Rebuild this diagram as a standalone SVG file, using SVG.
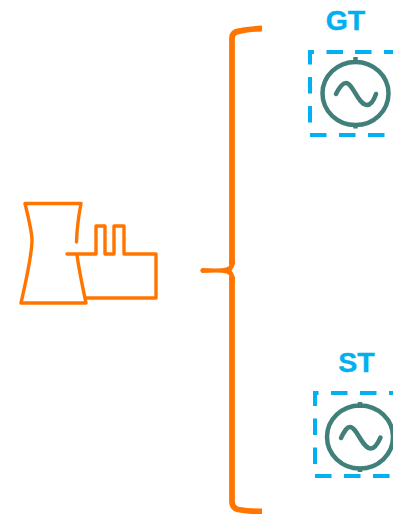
<svg xmlns="http://www.w3.org/2000/svg" width="393" height="514" viewBox="0 0 393 514">
<style>
.plant{fill:none;stroke:#ff7500;stroke-width:3.400;stroke-linecap:round;stroke-linejoin:round}
.brace{fill:none;stroke:#ff7500;stroke-width:5.800}
.nose{fill:#ff7500}
.box{fill:none;stroke:#00b0f0;stroke-width:4;stroke-dasharray:16.500 12.500}
.gen{fill:none;stroke:#41807a;stroke-width:4.500;stroke-linecap:round}
.tick{fill:none;stroke:#41807a;stroke-width:4.500}
.lbl{font-family:"Liberation Sans",Arial,sans-serif;font-weight:700;font-size:28.500px;fill:#00b0f0;stroke:#00b0f0;stroke-width:0.400;text-anchor:middle}
</style>
<rect width="393" height="514" fill="#fff"/>
<g id="plant">
<path class="plant" d="M76.500 242Q77 224 81 203.500H25Q32 232 32 240Q32 255 21 303H86Q79 270 77 255"/>
<path class="plant" d="M67 254H96V226H105V254H114V226H124V254H156V298H86"/>
</g>
<g id="connectors">
<path class="brace" d="M262 28.500Q248 29 240 31Q232 32 232 38V264"/>
<path class="brace" d="M232 277V501Q232 508 238 509.500Q250 511.500 262 511.500"/>
<path class="nose" d="M229.100 260H234.900V264Q233.500 268 231.500 270.500Q233.500 273 234.900 277V281H229.100V275Q227 273 222 272.700Q212 272.400 202 273Q198.500 270.500 202 268Q212 268.600 222 268.300Q227 268 229.100 266Z"/>
</g>
<g id="gt">
<text class="lbl" x="345.500" y="29.500">GT</text>
<path class="box" d="M343 52H310V135"/>
<path class="box" d="M355 52H393"/>
<path class="box" d="M310 135H393"/>
<ellipse class="gen" cx="355.500" cy="93.500" rx="33" ry="31.500"/>
<path class="tick" d="M355.500 57V63M355.500 124V128.500"/>
<path class="gen" d="M336 94C340 86 343 83 346 83C353 83 358 105 367 105C371 105 374 100 376 94"/>
</g>
<g id="st">
<text class="lbl" x="356.500" y="371.700">ST</text>
<path class="box" d="M347.500 393H315V476"/>
<path class="box" d="M360 393H393"/>
<path class="box" d="M315 476H393"/>
<ellipse class="gen" cx="360" cy="437" rx="33" ry="31.500"/>
<path class="tick" d="M360 402V408M360 468V472"/>
<path class="gen" d="M341 438C345 430 347 427 350 427C357 427 362 448.500 371 448.500C375 448.500 378 443 380.500 437.500"/>
</g>
</svg>
